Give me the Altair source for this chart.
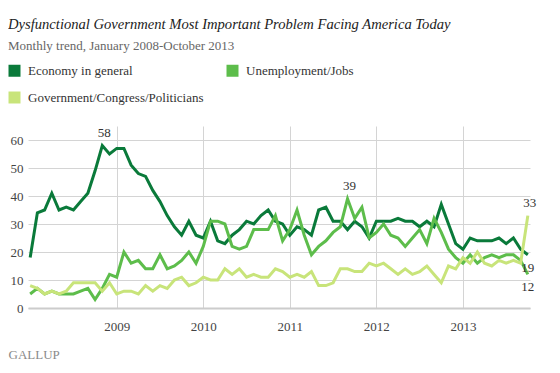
import altair as alt
import pandas as pd

series_names = ["Economy in general", "Unemployment/Jobs", "Government/Congress/Politicians"]
colors = ["#0a7a3a", "#5dbd4b", "#c8e47a"]

# Monthly values, January 2008 - October 2013 (70 months)
economy = [18, 34, 35, 41, 35, 36, 35, 38, 41, 49, 58, 55,
           57, 57, 51, 48, 47, 42, 38, 33, 29, 26, 31, 26,
           25, 31, 24, 23, 26, 28, 31, 30, 33, 35, 31, 30,
           26, 29, 28, 26, 35, 36, 31, 31, 28, 31, 29, 25,
           31, 31, 31, 32, 31, 31, 29, 31, 29, 37, 30, 23,
           21, 25, 24, 24, 24, 25, 23, 25, 21, 19]
unemployment = [5, 7, 5, 6, 5, 5, 5, 6, 7, 3, 7, 12,
                11, 20, 16, 17, 14, 14, 19, 14, 15, 17, 20, 16,
                22, 31, 31, 30, 22, 21, 22, 28, 28, 28, 33, 24,
                28, 35, 26, 19, 22, 24, 27, 29, 39, 32, 36, 25,
                27, 30, 26, 25, 22, 25, 28, 23, 32, 27, 21, 18,
                16, 19, 16, 18, 19, 18, 19, 19, 17, 12]
government = [8, 7, 5, 6, 5, 6, 9, 9, 9, 9, 6, 9,
              5, 6, 6, 5, 8, 6, 8, 7, 10, 11, 8, 9,
              11, 10, 10, 14, 12, 14, 11, 12, 11, 11, 14, 13,
              11, 12, 11, 13, 8, 8, 9, 14, 14, 13, 13, 16,
              15, 16, 14, 12, 14, 12, 13, 15, 12, 9, 15, 14,
              18, 16, 20, 16, 15, 17, 16, 17, 16, 33]

year_ticks = [12, 24, 36, 48, 60]
y_ticks = [0, 10, 20, 30, 40, 50, 60]

# annotated points: (series index, month index)
labels_above = [(0, 10), (1, 44), (2, 69)]
labels_below = [(0, 69), (1, 69)]

all_series = [economy, unemployment, government]
rows = []
for s, vals in zip(series_names, all_series):
    for i, v in enumerate(vals):
        rows.append({"month": i, "series": s, "value": v})
df = pd.DataFrame(rows)

above_df = pd.DataFrame([{"month": m, "series": series_names[s], "value": all_series[s][m]}
                         for s, m in labels_above])
below_df = pd.DataFrame([{"month": m, "series": series_names[s], "value": all_series[s][m]}
                         for s, m in labels_below])

SERIF = "Liberation Serif"

color_scale = alt.Scale(domain=series_names, range=colors)
legend = alt.Legend(title=None, orient="none", legendX=-20, legendY=-62, columns=2,
                    direction="horizontal",
                    symbolType="square", symbolSize=144, symbolOpacity=1, symbolStrokeWidth=0,
                    labelFont=SERIF, labelFontSize=13, labelColor="#333333", labelLimit=400,
                    labelOffset=7, columnPadding=22, rowPadding=13, padding=0)

x_enc = alt.X("month:Q",
              scale=alt.Scale(domain=[-0.3, 69.3], nice=False, zero=False),
              axis=alt.Axis(values=year_ticks, labelExpr="'' + (2008 + datum.value / 12)",
                            grid=True, gridColor="#d4d4d4", gridWidth=1,
                            domainColor="#cccccc", domainWidth=2, ticks=False,
                            labelPadding=12, labelFont=SERIF, labelFontSize=13, labelColor="#444444",
                            labelOverlap=False,
                            title="GALLUP", titleX=-20, titleY=53, titleAlign="left",
                            titleBaseline="bottom", titleFont=SERIF, titleFontSize=13,
                            titleFontWeight="normal", titleColor="#8a8a8a"))
y_enc = alt.Y("value:Q",
              scale=alt.Scale(domain=[0, 65], nice=False),
              axis=alt.Axis(values=y_ticks, tickCount=7, grid=True, gridColor="#d4d4d4", gridWidth=1,
                            domain=False, ticks=False, labelPadding=5, title=None,
                            labelOverlap=False, labelFlush=False,
                            labelFont=SERIF, labelFontSize=13, labelColor="#444444"))

legend_layer = alt.Chart(df).mark_square(size=144, opacity=0, filled=True).encode(
    x=x_enc, y=y_enc,
    color=alt.Color("series:N", scale=color_scale, legend=legend, sort=series_names))

lines = alt.Chart(df).mark_line(strokeWidth=3, strokeJoin="miter").encode(
    x=x_enc, y=y_enc,
    color=alt.Color("series:N", scale=color_scale, legend=legend, sort=series_names))

text_above = alt.Chart(above_df).mark_text(baseline="bottom", dy=-6, dx=2, font=SERIF,
                                            fontSize=13, color="#333333").encode(
    x=x_enc, y=y_enc, text="value:Q")
text_below = alt.Chart(below_df).mark_text(baseline="top", dy=7, font=SERIF,
                                            fontSize=13, color="#333333").encode(
    x=x_enc, y=y_enc, text="value:Q")

chart = alt.layer(legend_layer, lines, text_above, text_below).properties(
    width=502, height=182,
    autosize=alt.AutoSizeParams(type="none"),
    padding={"left": 20, "top": 118, "right": 16, "bottom": 57},
    background="white",
    title=alt.TitleParams(
        text="Dysfunctional Government Most Important Problem Facing America Today",
        subtitle="Monthly trend, January 2008-October 2013",
        anchor="start", frame="group", dx=-20, offset=11,
        font=SERIF, fontSize=14.6, fontStyle="italic", fontWeight="normal", color="#222222",
        subtitleFont=SERIF, subtitleFontSize=13, subtitleColor="#666666", subtitlePadding=8)
).configure_view(stroke=None)

chart.save("out.html", embed_options={"renderer": "svg", "actions": False})
